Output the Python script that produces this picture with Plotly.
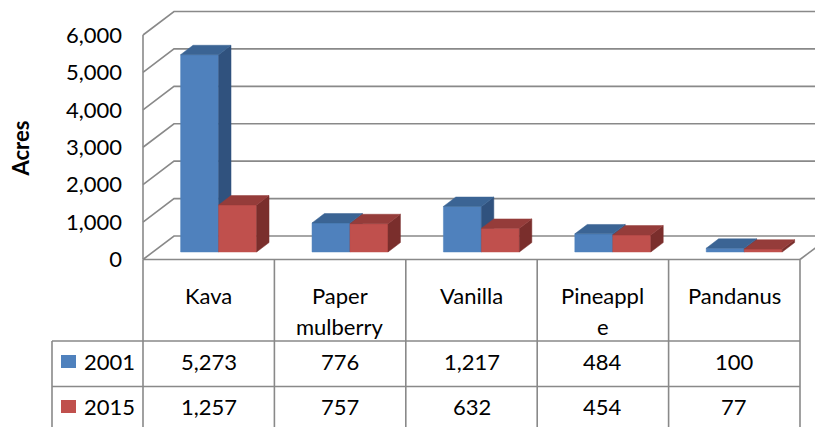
import plotly.graph_objects as go

# Data
categories = ["Kava", "Paper mulberry", "Vanilla", "Pineapple", "Pandanus"]
category_labels = ["Kava", "Paper\nmulberry", "Vanilla", "Pineappl\ne", "Pandanus"]
series_names = ["2001", "2015"]
acres_2001 = [5273, 776, 1217, 484, 100]
acres_2015 = [1257, 757, 632, 454, 77]
y_ticks = [0, 1000, 2000, 3000, 4000, 5000, 6000]

# Geometry: positions are given in window pixels, the page body adds an 8px offset
W, H = 823, 427
OFF = 8
COL_PX = 131.4          # width of one category column
LEFT_PX = 143           # front-left wall edge / first table column
ZERO_PX = 259.5         # front plane value 0
PX_PER_UNIT = 224.5 / 6000

x_min = -0.5 - (LEFT_PX - OFF) / COL_PX
x_max = x_min + W / COL_PX
y_max = (ZERO_PX - OFF) / PX_PER_UNIT
y_min = -(H - (ZERO_PX - OFF)) / PX_PER_UNIT


def px_x(p):
    return -0.5 + (p - LEFT_PX) / COL_PX


def px_y(p):
    return (ZERO_PX - p) / PX_PER_UNIT


DX = 31 / COL_PX            # depth offset of the 3D box
DY = 23.5 / PX_PER_UNIT
BAR_W = 38 / COL_PX
D0, D1 = 0.32, 0.72         # bar depth within the box

FONT = "Lato"
GRID = "#898989"
palette = [
    dict(front="#4F81BD", top="#3B6494", side="#30527E"),
    dict(front="#C0504D", top="#953C3A", side="#7A2E2C"),
]

fig = go.Figure()

# ============================================================================
# 3D box: walls and gridlines
# ============================================================================
gx, gy = [], []
x_front = -0.5
x_back = -0.5 + DX
for v in y_ticks:
    gx += [x_front, x_back, x_max, None]
    gy += [v, v + DY, v + DY, None]
gx += [x_front, x_front, None]
gy += [0, y_ticks[-1], None]
n = len(categories)
gx += [n - 0.5, n - 0.5 + DX, None]
gy += [0, DY, None]

fig.add_trace(go.Scatter(x=gx, y=gy, mode="lines", line=dict(color=GRID, width=1.6),
                         hoverinfo="skip", showlegend=False))


def poly(xs, ys, color):
    fig.add_trace(go.Scatter(
        x=xs + [xs[0]], y=ys + [ys[0]], mode="lines", fill="toself",
        fillcolor=color, line=dict(color=color, width=0.5),
        hoverinfo="skip", showlegend=False))


# ============================================================================
# Bars
# ============================================================================
for i in range(n):
    for s, vals in enumerate([acres_2001, acres_2015]):
        v = vals[i]
        c = palette[s]
        x0 = i - BAR_W + s * BAR_W + D0 * DX
        x1 = x0 + BAR_W
        yb = D0 * DY
        yt = v + D0 * DY
        ddx = (D1 - D0) * DX
        ddy = (D1 - D0) * DY
        poly([x0, x1, x1, x0], [yb, yb, yt, yt], c["front"])
        poly([x1, x1 + ddx, x1 + ddx, x1], [yb, yb + ddy, yt + ddy, yt], c["side"])
        poly([x0, x1, x1 + ddx, x0 + ddx], [yt, yt, yt + ddy, yt + ddy], c["top"])

# ============================================================================
# Data table
# ============================================================================
row_top = [px_y(341), px_y(386.5)]
leg_left = px_x(52)
tx, ty = [], []
for k in range(n + 1):
    tx += [k - 0.5, k - 0.5, None]
    ty += [0, y_min, None]
tx += [leg_left, leg_left, None]
ty += [row_top[0], y_min, None]
tx += [-0.5, n - 0.5, None]
ty += [0, 0, None]
for r in row_top:
    tx += [leg_left, n - 0.5, None]
    ty += [r, r, None]
fig.add_trace(go.Scatter(x=tx, y=ty, mode="lines", line=dict(color=GRID, width=1.6),
                         hoverinfo="skip", showlegend=False))

annotations = []
for i, lab in enumerate(category_labels):
    for j, line in enumerate(lab.split("\n")):
        annotations.append(dict(
            x=i, y=px_y(295 + 31 * j), text=line, showarrow=False,
            xanchor="center", yanchor="middle", font=dict(family=FONT, size=22, color="black")))

row_centers = [px_y(361), px_y(406)]
swatch_y = [(355, 368), (400, 413)]
for s, (name, vals) in enumerate(zip(series_names, [acres_2001, acres_2015])):
    for i, v in enumerate(vals):
        annotations.append(dict(
            x=i, y=row_centers[s], text=f"{v:,}", showarrow=False,
            xanchor="center", yanchor="middle", font=dict(family=FONT, size=22, color="black")))
    annotations.append(dict(
        x=px_x(82), y=row_centers[s], text=name, showarrow=False,
        xanchor="left", yanchor="middle", font=dict(family=FONT, size=22, color="black")))
    fig.add_shape(type="rect", x0=px_x(61), x1=px_x(76),
                  y0=px_y(swatch_y[s][1]), y1=px_y(swatch_y[s][0]),
                  fillcolor=palette[s]["front"], line=dict(width=0))

# Axis title
annotations.append(dict(
    xref="paper", yref="paper", x=(20.5 - OFF) / W, y=1 - (149 - OFF) / H,
    text="<b>Acres</b>", textangle=-90, showarrow=False,
    xanchor="center", yanchor="middle",
    font=dict(family=FONT, size=22, color="black")))

fig.update_xaxes(range=[x_min, x_max], showgrid=False, zeroline=False,
                 showticklabels=False, showline=False, fixedrange=True,
                 automargin=False)
fig.update_yaxes(range=[y_min, y_max], showgrid=False, zeroline=False, showline=False,
                 tickvals=y_ticks, ticktext=[f"{v:,}" for v in y_ticks],
                 tickfont=dict(family=FONT, size=22, color="black"),
                 ticks="", ticklabelstandoff=21, automargin=False,
                 anchor="free", position=(LEFT_PX - OFF) / W, fixedrange=True)

fig.update_layout(
    width=W, height=H,
    margin=dict(l=0, r=0, t=0, b=0, autoexpand=False),
    paper_bgcolor="white", plot_bgcolor="white",
    showlegend=False,
    annotations=annotations,
)

fig.write_html("out.html")
